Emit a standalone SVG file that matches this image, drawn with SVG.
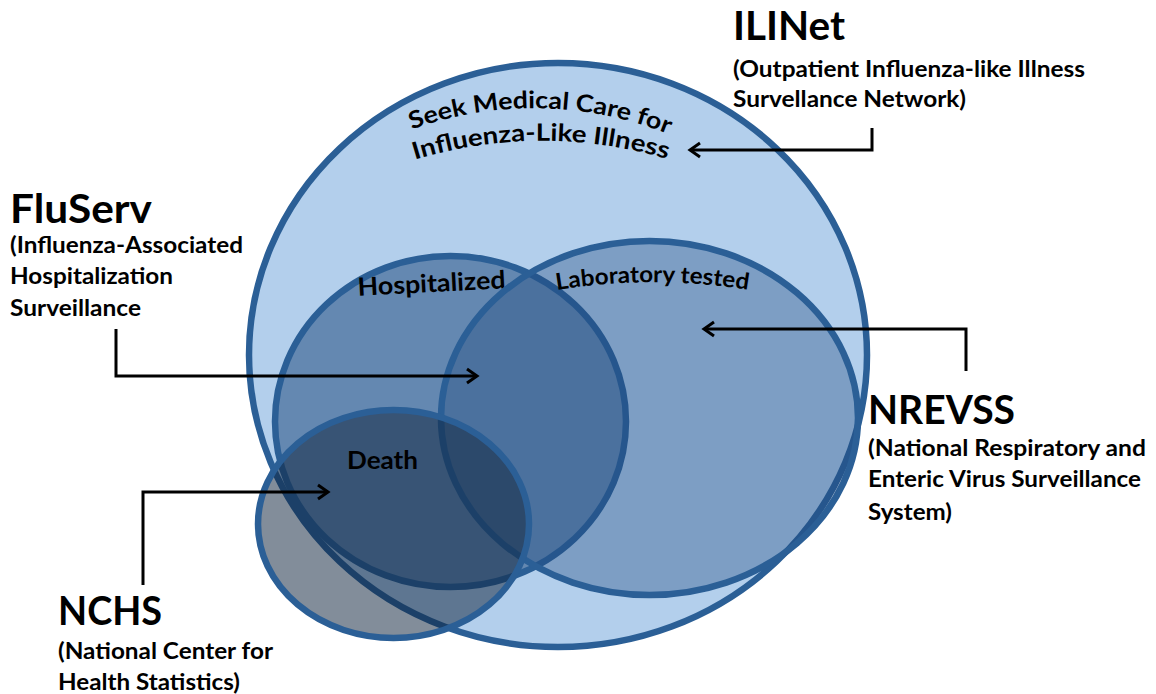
<svg xmlns="http://www.w3.org/2000/svg" width="1156" height="694" viewBox="0 0 1156 694">
<style>
.t{font-family:Lato,"Liberation Sans",sans-serif;font-weight:bold;fill:#000}
.big{font-size:40px}
.sub{font-size:22.5px}
.lbl{font-size:25px}
.ol{stroke:#2b5f96;stroke-width:6.5}
.con{fill:none;stroke:#000;stroke-width:3}
</style>
<defs>
<marker id="ah" markerWidth="16" markerHeight="18" refX="12" refY="8" orient="auto" markerUnits="userSpaceOnUse" overflow="visible">
<path d="M2,1 L12,8 L2,15" fill="none" stroke="#000" stroke-width="3"/>
</marker>
<path id="arc1" d="M398,135 A360,360 0 0,1 682,140"/>
<path id="arc2" d="M402,164 A437,437 0 0,1 680,163"/>
<path id="arc3" d="M545,292 A598,598 0 0,1 760,292"/>
</defs>
<rect width="1156" height="694" fill="#fff"/>
<g id="ilinet-set">
<ellipse cx="558" cy="355" rx="309" ry="292" fill="#b3cfec" class="ol"/>
<text class="t" style="font-size:24px"><textPath href="#arc1" startOffset="50%" text-anchor="middle" textLength="262" lengthAdjust="spacingAndGlyphs">Seek Medical Care for</textPath></text>
<text class="t" style="font-size:24px"><textPath href="#arc2" startOffset="50%" text-anchor="middle" textLength="256" lengthAdjust="spacingAndGlyphs">Influenza-Like Illness</textPath></text>
</g>
<g id="hospitalized-set">
<ellipse cx="450.5" cy="421.5" rx="175.5" ry="165.5" fill="#1f497d" fill-opacity="0.53" class="ol"/>
<text class="t lbl" x="432" y="292" text-anchor="middle" textLength="148" lengthAdjust="spacingAndGlyphs" transform="rotate(-3 432 292)">Hospitalized</text>
</g>
<g id="lab-set">
<ellipse cx="649.5" cy="418" rx="208.5" ry="177" fill="#1f497d" fill-opacity="0.36" class="ol"/>
<text class="t" style="font-size:23px"><textPath href="#arc3" startOffset="50%" text-anchor="middle" textLength="192" lengthAdjust="spacingAndGlyphs">Laboratory tested</textPath></text>
</g>
<g id="death-set">
<ellipse cx="393.5" cy="524" rx="135.5" ry="114" fill="#0f243e" fill-opacity="0.52" class="ol"/>
<text class="t lbl" x="382.5" y="469" text-anchor="middle" textLength="71" lengthAdjust="spacingAndGlyphs">Death</text>
</g>
<g id="ilinet">
<text class="t big" x="733" y="40" textLength="112" lengthAdjust="spacingAndGlyphs">ILINet</text>
<text class="t sub" x="733" y="77" textLength="352" lengthAdjust="spacingAndGlyphs">(Outpatient Influenza-like Illness</text>
<text class="t sub" x="733" y="107" textLength="233" lengthAdjust="spacingAndGlyphs">Survellance Network)</text>
</g>
<g id="fluserv">
<text class="t big" x="10" y="223" textLength="142" lengthAdjust="spacingAndGlyphs">FluServ</text>
<text class="t sub" x="10" y="253" textLength="233" lengthAdjust="spacingAndGlyphs">(Influenza-Associated</text>
<text class="t sub" x="10" y="284" textLength="163" lengthAdjust="spacingAndGlyphs">Hospitalization</text>
<text class="t sub" x="10" y="316" textLength="131" lengthAdjust="spacingAndGlyphs">Surveillance</text>
</g>
<g id="nrevss">
<text class="t big" x="868" y="424" textLength="147" lengthAdjust="spacingAndGlyphs">NREVSS</text>
<text class="t sub" x="868" y="456" textLength="278" lengthAdjust="spacingAndGlyphs">(National Respiratory and</text>
<text class="t sub" x="868" y="487" textLength="273" lengthAdjust="spacingAndGlyphs">Enteric Virus Surveillance</text>
<text class="t sub" x="868" y="520" textLength="84" lengthAdjust="spacingAndGlyphs">System)</text>
</g>
<g id="nchs">
<text class="t big" x="58" y="625" textLength="104" lengthAdjust="spacingAndGlyphs">NCHS</text>
<text class="t sub" x="58" y="659" textLength="215" lengthAdjust="spacingAndGlyphs">(National Center for</text>
<text class="t sub" x="58" y="690" textLength="182" lengthAdjust="spacingAndGlyphs">Health Statistics)</text>
</g>
<g id="connectors">
<path class="con" d="M872,128 V150 H690" marker-end="url(#ah)"/>
<path class="con" d="M116,329 V376 H477" marker-end="url(#ah)"/>
<path class="con" d="M966,371 V329 H704" marker-end="url(#ah)"/>
<path class="con" d="M143,585 V492 H328" marker-end="url(#ah)"/>
</g>
</svg>
